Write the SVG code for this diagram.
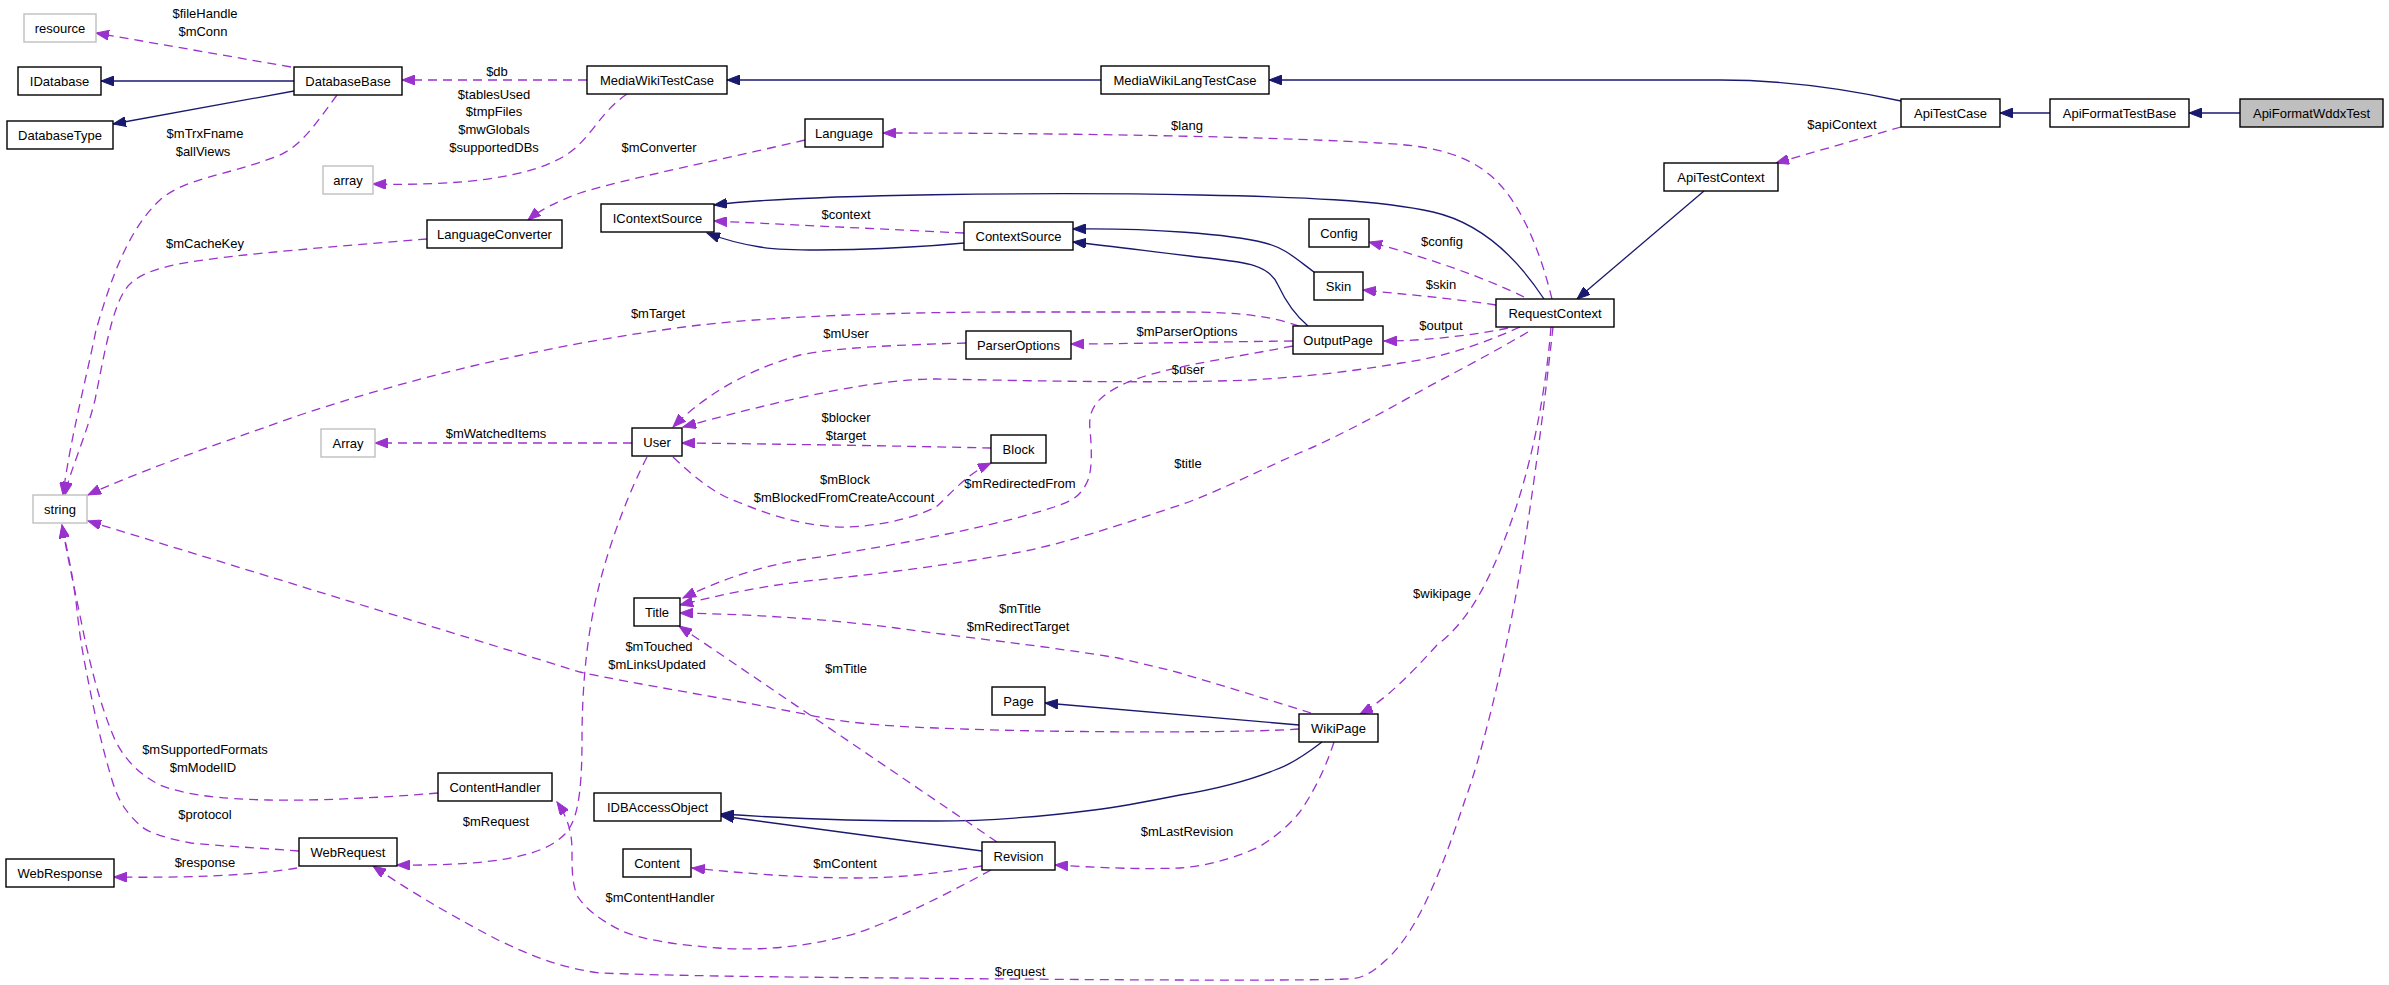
<svg xmlns="http://www.w3.org/2000/svg" width="2389" height="985" viewBox="0 0 2389 985">
<style>
.n rect{fill:#fff;stroke:#000;stroke-width:1.4}
.n.x rect{stroke:#bfbfbf}
.n.h rect{fill:#bfbfbf}
text{font-family:"Liberation Sans",Arial,Helvetica,sans-serif;font-size:13px;fill:#000}
.n text{text-anchor:middle}
.l text{text-anchor:middle}
.i{fill:none;stroke:#191970;stroke-width:1.3;marker-end:url(#ai)}
.u{fill:none;stroke:#9a32cd;stroke-width:1.3;stroke-dasharray:9,6;marker-end:url(#au)}
</style>
<defs>
<marker id="ai" markerUnits="userSpaceOnUse" markerWidth="14" markerHeight="10" refX="13" refY="5" orient="auto"><path d="M0,0 L13,5 L0,10 z" fill="#191970" stroke="#191970" stroke-width="1"/></marker>
<marker id="au" markerUnits="userSpaceOnUse" markerWidth="14" markerHeight="10" refX="13" refY="5" orient="auto"><path d="M0,0 L13,5 L0,10 z" fill="#9a32cd" stroke="#9a32cd" stroke-width="1"/></marker>
</defs>
<rect width="2389" height="985" fill="#fff"/>
<g id="edges">
<path class="i" d="M2240,113 L2189,113"/>
<path class="i" d="M2050,113 L2000,113"/>
<path class="i" d="M1901,101 C1860,92 1790,80 1720,80 L1269,80"/>
<path class="i" d="M1101,80 L727,80"/>
<path class="u" d="M587,80 L402,80"/>
<path class="u" d="M627,94 C600,112 590,140 566,155 C530,178 460,186 373,184"/>
<path class="u" d="M291,67 L96,33"/>
<path class="i" d="M294,81 L101,81"/>
<path class="i" d="M294,91 L113,124"/>
<path class="u" d="M337,95 C315,125 300,148 275,157 C225,176 185,178 160,200 C125,232 108,290 96,330 C86,380 70,440 63,495"/>
<path class="u" d="M427,239 C340,246 240,254 190,262 C155,268 135,275 125,290 C112,310 105,350 95,400 C85,440 70,470 65,495"/>
<path class="u" d="M805,140 C720,160 620,180 580,193 C558,201 540,210 528,220"/>
<path class="u" d="M1552,299 C1540,250 1520,200 1490,175 C1460,150 1420,145 1378,143 C1300,138 1100,133 883,133"/>
<path class="u" d="M1901,127 L1776,163"/>
<path class="i" d="M1704,191 L1577,299"/>
<path class="i" d="M1544,299 C1525,270 1490,225 1433,212 C1380,200 1300,197 1200,195 C1050,192 800,194 714,205"/>
<path class="u" d="M964,233 L714,221"/>
<path class="i" d="M964,243 C900,249 800,253 760,247 C735,243 720,238 707,233"/>
<path class="i" d="M1314,272 C1295,258 1285,248 1265,243 C1230,234 1150,228 1073,229"/>
<path class="i" d="M1308,326 C1295,315 1285,300 1278,285 C1268,262 1240,262 1190,256 C1140,250 1110,246 1073,242"/>
<path class="u" d="M1524,297 C1490,280 1430,258 1369,242"/>
<path class="u" d="M1496,305 C1450,298 1400,294 1363,290"/>
<path class="u" d="M1508,328 C1470,336 1420,341 1384,341"/>
<path class="u" d="M1520,327 C1480,345 1440,358 1401,363 C1350,372 1300,377 1250,380 C1150,384 1000,380 936,379 C880,379 800,395 683,427"/>
<path class="u" d="M1293,341 C1200,342 1120,344 1071,344"/>
<path class="u" d="M1299,326 C1270,316 1240,312 1180,312 L1015,312 C900,312 780,316 700,325 C560,342 420,375 300,415 C200,450 130,475 88,495"/>
<path class="u" d="M966,343 C900,345 840,347 800,355 C740,372 700,400 673,427"/>
<path class="u" d="M1293,346 C1220,360 1160,368 1126,383 C1095,397 1088,410 1090,430 C1092,450 1092,470 1088,480 C1080,500 1065,503 1054,507 C1000,525 900,545 800,560 C750,568 710,585 683,598"/>
<path class="u" d="M991,448 C900,446 780,444 682,443"/>
<path class="u" d="M673,457 C695,478 715,494 738,502 C780,520 820,528 849,527 C890,525 920,515 936,507 C950,495 965,475 991,463"/>
<path class="u" d="M632,443 L375,443"/>
<path class="u" d="M647,457 C630,490 610,540 598,590 C588,630 582,680 582,740 C582,800 576,822 565,834 C545,855 500,866 397,865"/>
<path class="u" d="M1553,327 C1545,400 1530,520 1515,600 C1500,680 1480,760 1465,800 C1445,860 1420,930 1386,960 C1370,975 1360,979 1346,979 C1300,981 1100,980 900,978 C750,977 650,975 600,973 C560,968 530,955 498,940 C460,920 420,898 373,866"/>
<path class="u" d="M1551,327 C1545,400 1530,470 1510,525 C1490,580 1470,620 1437,645 C1410,675 1385,700 1360,714"/>
<path class="u" d="M1528,332 C1480,360 1440,380 1417,393 C1370,420 1320,445 1299,453 C1250,475 1210,495 1180,505 C1120,525 1060,545 1015,553 C950,565 870,575 817,580 C760,586 720,595 680,605"/>
<path class="u" d="M1311,713 C1270,700 1220,685 1180,673 C1150,665 1130,661 1118,658 C1040,645 960,637 896,628 C820,618 740,614 680,613"/>
<path class="u" d="M1299,729 C1250,733 1050,733 936,728 C880,726 840,722 809,715 C720,697 640,685 580,672 L88,521"/>
<path class="i" d="M1299,725 L1045,703"/>
<path class="i" d="M1322,742 C1305,755 1290,765 1275,770 C1245,782 1210,790 1180,795 C1140,803 1110,808 1094,810 C1040,817 980,821 936,821 C860,821 780,818 721,814"/>
<path class="i" d="M982,851 L721,816"/>
<path class="u" d="M997,842 L679,626"/>
<path class="u" d="M982,866 C940,873 900,878 857,878 C800,878 740,873 692,868"/>
<path class="u" d="M1334,742 C1325,770 1312,795 1299,813 C1285,830 1270,840 1259,847 C1230,860 1205,866 1180,868 C1150,869 1120,869 1055,865"/>
<path class="u" d="M991,870 C940,898 890,922 857,933 C810,947 760,951 718,948 C680,945 640,940 620,930 C600,920 585,908 578,897 C572,885 572,870 572,850 C572,830 566,815 557,802"/>
<path class="u" d="M438,793 C380,798 310,801 268,800 C220,799 185,795 160,785 C140,775 125,760 115,740 C100,705 92,670 86,645 C78,605 68,560 62,525"/>
<path class="u" d="M299,851 C260,848 220,846 191,843 C165,838 150,833 142,827 C125,812 118,800 112,780 C103,750 96,720 90,690 C84,660 80,640 77,610 C73,575 67,550 62,525"/>
<path class="u" d="M297,868 C250,876 180,878 114,877"/>
</g>
<g id="edge-labels" class="l">
<text x="205" y="18">$fileHandle</text>
<text x="203" y="36">$mConn</text>
<text x="497" y="76">$db</text>
<text x="494" y="99">$tablesUsed</text>
<text x="494" y="116">$tmpFiles</text>
<text x="494" y="134">$mwGlobals</text>
<text x="494" y="152">$supportedDBs</text>
<text x="205" y="138">$mTrxFname</text>
<text x="203" y="156">$allViews</text>
<text x="659" y="152">$mConverter</text>
<text x="205" y="248">$mCacheKey</text>
<text x="1187" y="130">$lang</text>
<text x="1842" y="129">$apiContext</text>
<text x="846" y="219">$context</text>
<text x="1442" y="246">$config</text>
<text x="1441" y="289">$skin</text>
<text x="1441" y="330">$output</text>
<text x="658" y="318">$mTarget</text>
<text x="846" y="338">$mUser</text>
<text x="1187" y="336">$mParserOptions</text>
<text x="1188" y="374">$user</text>
<text x="496" y="438">$mWatchedItems</text>
<text x="846" y="422">$blocker</text>
<text x="846" y="440">$target</text>
<text x="1188" y="468">$title</text>
<text x="845" y="484">$mBlock</text>
<text x="844" y="502">$mBlockedFromCreateAccount</text>
<text x="1020" y="488">$mRedirectedFrom</text>
<text x="1442" y="598">$wikipage</text>
<text x="1020" y="613">$mTitle</text>
<text x="1018" y="631">$mRedirectTarget</text>
<text x="659" y="651">$mTouched</text>
<text x="657" y="669">$mLinksUpdated</text>
<text x="846" y="673">$mTitle</text>
<text x="205" y="754">$mSupportedFormats</text>
<text x="203" y="772">$mModelID</text>
<text x="205" y="819">$protocol</text>
<text x="496" y="826">$mRequest</text>
<text x="1187" y="836">$mLastRevision</text>
<text x="205" y="867">$response</text>
<text x="845" y="868">$mContent</text>
<text x="660" y="902">$mContentHandler</text>
<text x="1020" y="976">$request</text>
</g>
<g id="ApiFormatWddxTest" class="n h"><rect x="2240" y="99" width="143" height="28"/><text x="2311.5" y="117.5">ApiFormatWddxTest</text></g>
<g id="ApiFormatTestBase" class="n"><rect x="2050" y="99" width="139" height="28"/><text x="2119.5" y="117.5">ApiFormatTestBase</text></g>
<g id="ApiTestCase" class="n"><rect x="1901" y="99" width="99" height="28"/><text x="1950.5" y="117.5">ApiTestCase</text></g>
<g id="MediaWikiLangTestCase" class="n"><rect x="1101" y="66" width="168" height="28"/><text x="1185" y="84.5">MediaWikiLangTestCase</text></g>
<g id="MediaWikiTestCase" class="n"><rect x="587" y="66" width="140" height="28"/><text x="657" y="84.5">MediaWikiTestCase</text></g>
<g id="DatabaseBase" class="n"><rect x="294" y="67" width="108" height="28"/><text x="348" y="85.5">DatabaseBase</text></g>
<g id="resource" class="n x"><rect x="24" y="14" width="72" height="28"/><text x="60" y="32.5">resource</text></g>
<g id="IDatabase" class="n"><rect x="18" y="67" width="83" height="28"/><text x="59.5" y="85.5">IDatabase</text></g>
<g id="DatabaseType" class="n"><rect x="7" y="121" width="106" height="28"/><text x="60" y="139.5">DatabaseType</text></g>
<g id="array" class="n x"><rect x="323" y="166" width="50" height="28"/><text x="348" y="184.5">array</text></g>
<g id="Language" class="n"><rect x="805" y="119" width="78" height="28"/><text x="844" y="137.5">Language</text></g>
<g id="LanguageConverter" class="n"><rect x="427" y="220" width="135" height="28"/><text x="494.5" y="238.5">LanguageConverter</text></g>
<g id="IContextSource" class="n"><rect x="601" y="204" width="113" height="28"/><text x="657.5" y="222.5">IContextSource</text></g>
<g id="ContextSource" class="n"><rect x="964" y="222" width="109" height="28"/><text x="1018.5" y="240.5">ContextSource</text></g>
<g id="ApiTestContext" class="n"><rect x="1664" y="163" width="114" height="28"/><text x="1721" y="181.5">ApiTestContext</text></g>
<g id="Config" class="n"><rect x="1309" y="219" width="60" height="28"/><text x="1339" y="237.5">Config</text></g>
<g id="Skin" class="n"><rect x="1314" y="272" width="49" height="28"/><text x="1338.5" y="290.5">Skin</text></g>
<g id="RequestContext" class="n"><rect x="1496" y="299" width="118" height="28"/><text x="1555" y="317.5">RequestContext</text></g>
<g id="OutputPage" class="n"><rect x="1293" y="326" width="90" height="28"/><text x="1338" y="344.5">OutputPage</text></g>
<g id="ParserOptions" class="n"><rect x="966" y="331" width="105" height="28"/><text x="1018.5" y="349.5">ParserOptions</text></g>
<g id="User" class="n"><rect x="632" y="428" width="50" height="28"/><text x="657" y="446.5">User</text></g>
<g id="Block" class="n"><rect x="991" y="435" width="55" height="28"/><text x="1018.5" y="453.5">Block</text></g>
<g id="Array" class="n x"><rect x="321" y="429" width="54" height="28"/><text x="348" y="447.5">Array</text></g>
<g id="string" class="n x"><rect x="33" y="495" width="54" height="28"/><text x="60" y="513.5">string</text></g>
<g id="Title" class="n"><rect x="634" y="598" width="46" height="28"/><text x="657" y="616.5">Title</text></g>
<g id="Page" class="n"><rect x="992" y="687" width="53" height="28"/><text x="1018.5" y="705.5">Page</text></g>
<g id="WikiPage" class="n"><rect x="1299" y="714" width="79" height="28"/><text x="1338.5" y="732.5">WikiPage</text></g>
<g id="IDBAccessObject" class="n"><rect x="594" y="793" width="127" height="28"/><text x="657.5" y="811.5">IDBAccessObject</text></g>
<g id="Content" class="n"><rect x="623" y="849" width="68" height="28"/><text x="657" y="867.5">Content</text></g>
<g id="Revision" class="n"><rect x="982" y="842" width="73" height="28"/><text x="1018.5" y="860.5">Revision</text></g>
<g id="ContentHandler" class="n"><rect x="438" y="773" width="114" height="28"/><text x="495" y="791.5">ContentHandler</text></g>
<g id="WebRequest" class="n"><rect x="299" y="838" width="98" height="28"/><text x="348" y="856.5">WebRequest</text></g>
<g id="WebResponse" class="n"><rect x="6" y="859" width="108" height="28"/><text x="60" y="877.5">WebResponse</text></g>
</svg>
